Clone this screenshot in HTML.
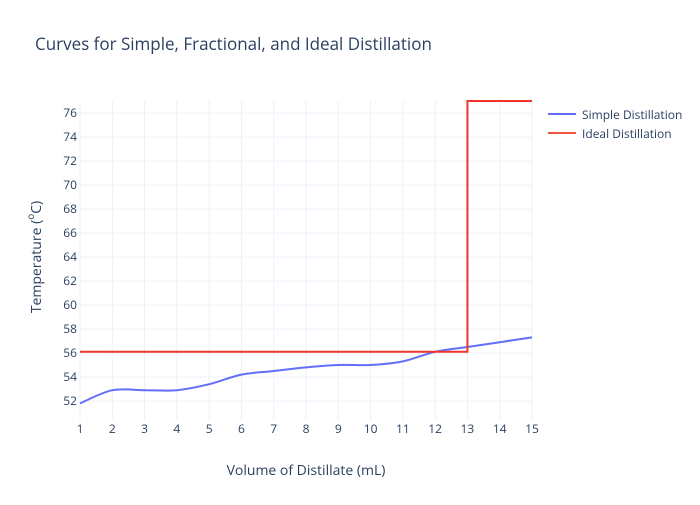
<!DOCTYPE html>
<html><head><meta charset="utf-8"><style>
body{margin:0;background:#fff;font-family:"Liberation Sans",sans-serif}
svg text{font-family:"Open Sans","Liberation Sans",sans-serif;fill:#2a3f5f}
</style></head><body>
<svg id="chart" width="700" height="500">
<rect width="700" height="500" fill="#fff"/>
<text x="35" y="50" font-size="17">Curves for Simple, Fractional, and Ideal Distillation</text>
<g id="grid"></g>
<g id="xticks"></g>
<g id="yticks"></g>
<g id="series"></g>
<text x="306" y="475" font-size="14" text-anchor="middle">Volume of Distillate (mL)</text>
<text transform="translate(41,257) rotate(-90)" font-size="14" text-anchor="middle">Temperature (<tspan baseline-shift="super" font-size="10">o</tspan>C)</text>
<g>
<g><line x1="548" y1="114" x2="576" y2="114" stroke="#636efa" stroke-width="2"/><text x="582" y="119" font-size="12">Simple Distillation</text></g>
<g><line x1="548" y1="133" x2="576" y2="133" stroke="#EF553B" stroke-width="2"/><text x="582" y="138" font-size="12">Ideal Distillation</text></g>
</g>
</svg>
<script>
const xTicks=[1,2,3,4,5,6,7,8,9,10,11,12,13,14,15];
const yTicks=[52,54,56,58,60,62,64,66,68,70,72,74,76];
const simpleX=[1,2,3,4,5,6,7,8,9,10,11,12,13,14,15];
const simpleY=[51.8,52.9,52.9,52.9,53.4,54.2,54.5,54.8,55.0,55.0,55.3,56.1,56.5,56.9,57.3];
const idealX=[1,13,13,15];
const idealY=[56.1,56.1,77,77];
const NS="http://www.w3.org/2000/svg";
const X0=80,X1=532,Y0=101,Y1=420;
function sx(v){return X0+(v-1)/(15-1)*(X1-X0);}
function sy(v){return 401-(v-52)*12;}
function mk(t,a,p){const e=document.createElementNS(NS,t);for(const k in a)e.setAttribute(k,a[k]);p.appendChild(e);return e;}
const grid=document.getElementById('grid'),xt=document.getElementById('xticks'),yt=document.getElementById('yticks'),ser=document.getElementById('series');
xTicks.forEach(v=>{
 const l=mk('line',{x1:sx(v),x2:sx(v),y1:Y0,y2:Y1,stroke:'#ebf0f8'},grid);
 
 
 const t=mk('text',{x:sx(v),y:433,'font-size':12,'text-anchor':'middle'},xt);t.textContent=v;
 
 
});
yTicks.forEach(v=>{
 const l=mk('line',{x1:X0,x2:X1,y1:sy(v),y2:sy(v),stroke:'#ebf0f8'},grid);
 
 
 const t=mk('text',{x:X0-3,y:sy(v)+4,'font-size':12,'text-anchor':'end'},yt);t.textContent=v;
 
 
});
// smooth simple curve (Catmull-Rom)
const pts=simpleX.map((x,i)=>[sx(x),sy(simpleY[i])]);
let d='M'+pts[0][0]+','+pts[0][1];
for(let i=0;i<pts.length-1;i++){
 const p0=pts[i-1]||pts[i],p1=pts[i],p2=pts[i+1],p3=pts[i+2]||p2,k=6;
 d+=' C'+(p1[0]+(p2[0]-p0[0])/k)+','+(p1[1]+(p2[1]-p0[1])/k)+' '+(p2[0]-(p3[0]-p1[0])/k)+','+(p2[1]-(p3[1]-p1[1])/k)+' '+p2[0]+','+p2[1];
}
const s=mk('path',{d:d,fill:'none',stroke:'#636efa','stroke-width':2},ser);


const id=mk('path',{d:'M'+idealX.map((x,i)=>sx(x)+','+sy(idealY[i])).join(' L'),fill:'none',stroke:'#f2352a','stroke-width':2},ser);


</script>
</body></html>
